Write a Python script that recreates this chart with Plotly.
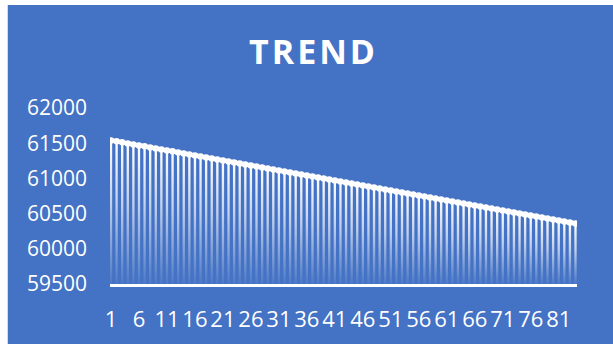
import plotly.graph_objects as go

# Data: 84 periods with a steadily declining value
categories = list(range(1, 85))
values = [
    61540, 61526, 61512, 61497, 61483, 61469, 61455, 61440, 61426, 61412,
    61398, 61384, 61369, 61355, 61341, 61327, 61312, 61298, 61284, 61270,
    61256, 61241, 61227, 61213, 61199, 61184, 61170, 61156, 61142, 61128,
    61113, 61099, 61085, 61071, 61057, 61042, 61028, 61014, 61000, 60985,
    60971, 60957, 60943, 60929, 60914, 60900, 60886, 60872, 60857, 60843,
    60829, 60815, 60801, 60786, 60772, 60758, 60744, 60729, 60715, 60701,
    60687, 60673, 60658, 60644, 60630, 60616, 60601, 60587, 60573, 60559,
    60545, 60530, 60516, 60502, 60488, 60474, 60459, 60445, 60431, 60417,
    60402, 60388, 60374, 60360,
]
x_tick_values = [1, 6, 11, 16, 21, 26, 31, 36, 41, 46, 51, 56, 61, 66, 71, 76, 81]
x_tick_labels = ["1", "6", "11", "16", "21", "26", "31", "36", "41", "46",
                 "51", "56", "61", "66", "71", "76", "81"]
y_tick_values = [59500, 60000, 60500, 61000, 61500, 62000]
y_tick_labels = ["59500", "60000", "60500", "61000", "61500", "62000"]
y_min, y_max = 59500, 62000

BLUE = "#4472C4"
WHITE = "#FFFFFF"
FONT = "Open Sans"

W, H = 613, 344
M_L, M_R, M_T, M_B = 110, 36, 108, 60
PLOT_W = W - M_L - M_R
PLOT_H = H - M_T - M_B

fig = go.Figure()

# Columns: white at the top fading to transparent at the base
half = 0.21
for c, v in zip(categories, values):
    fig.add_trace(go.Scatter(
        x=[c - half, c - half, c + half, c + half, c - half],
        y=[y_min, v, v, y_min, y_min],
        mode="lines",
        line=dict(width=0),
        fill="toself",
        fillgradient=dict(
            type="vertical",
            colorscale=[[0, "rgba(255,255,255,0.05)"],
                        [0.55, "rgba(255,255,255,0.65)"],
                        [1, "rgba(255,255,255,1)"]],
        ),
        hoverinfo="skip",
        showlegend=False,
    ))

# Trend line
fig.add_trace(go.Scatter(
    x=categories, y=values,
    mode="lines+markers",
    line=dict(color=WHITE, width=4.5),
    marker=dict(color=WHITE, size=6.5),
    showlegend=False,
))

def px_to_paper_x(px):
    return (px - M_L) / PLOT_W

def px_to_paper_y(py):
    return (H - M_B - py) / PLOT_H

# Blue chart card with a thin light edge on the left
fig.add_shape(type="rect", xref="paper", yref="paper", layer="below",
              x0=px_to_paper_x(8), x1=px_to_paper_x(W + 20),
              y0=px_to_paper_y(H + 20), y1=px_to_paper_y(5),
              fillcolor=BLUE, line=dict(width=0))
fig.add_shape(type="line", xref="paper", yref="paper", layer="below",
              x0=px_to_paper_x(7.5), x1=px_to_paper_x(7.5),
              y0=px_to_paper_y(H + 20), y1=px_to_paper_y(5),
              line=dict(color="#D5DAEC", width=1))

fig.add_annotation(
    text="<span style='letter-spacing:3px'><b>TREND</b></span>",
    xref="paper", yref="paper",
    x=px_to_paper_x(313), y=px_to_paper_y(51),
    xanchor="center", yanchor="middle", showarrow=False,
    font=dict(family=FONT, size=34, color=WHITE, weight=600),
)

fig.update_layout(
    width=W, height=H,
    margin=dict(l=M_L, r=M_R, t=M_T, b=M_B, pad=0),
    paper_bgcolor=WHITE,
    plot_bgcolor="rgba(0,0,0,0)",
    xaxis=dict(
        range=[1 - 1 / 5.596, 84 + 1.5 / 5.596],
        tickmode="array", tickvals=x_tick_values, ticktext=x_tick_labels,
        tickangle=0, showgrid=False, zeroline=False,
        showline=True, linecolor=WHITE, linewidth=3,
        ticks="", ticklabelstandoff=14,
        tickfont=dict(family=FONT, size=22, color=WHITE),
    ),
    yaxis=dict(
        range=[y_min, y_max],
        tickmode="array", tickvals=y_tick_values, ticktext=y_tick_labels,
        showgrid=False, zeroline=False, showline=False,
        ticks="", ticklabelstandoff=22,
        tickfont=dict(family=FONT, size=21, color=WHITE),
    ),
)

fig.write_html("out.html")
